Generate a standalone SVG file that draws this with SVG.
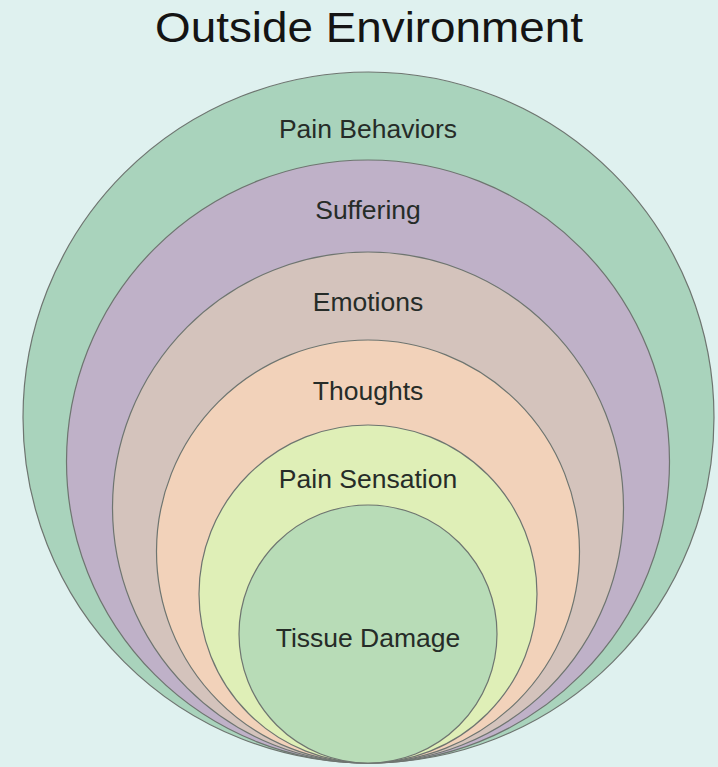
<svg xmlns="http://www.w3.org/2000/svg" width="718" height="767" viewBox="0 0 718 767">
<style>
.ring{stroke:#6e7570;stroke-width:1.2}
.lbl{font-family:"Liberation Sans",Arial,sans-serif;font-size:26.5px;fill:#262c28;text-anchor:middle}
.title{font-family:"Liberation Sans",Arial,sans-serif;font-size:42px;fill:#141414;text-anchor:middle}
</style>
<rect width="718" height="767" fill="#dff1ef"/>
<text class="title" x="369" y="42" textLength="428" lengthAdjust="spacingAndGlyphs">Outside Environment</text>
<g id="pain-behaviors"><circle class="ring" cx="368.5" cy="417.5" r="345.5" fill="#a9d3bc"/><text class="lbl" x="368" y="138">Pain Behaviors</text></g>
<g id="suffering"><circle class="ring" cx="368" cy="461.5" r="301.5" fill="#bfb1c8"/><text class="lbl" x="368" y="219">Suffering</text></g>
<g id="emotions"><circle class="ring" cx="368" cy="507.5" r="255.5" fill="#d4c3bc"/><text class="lbl" x="368" y="311">Emotions</text></g>
<g id="thoughts"><circle class="ring" cx="368" cy="551.5" r="211.5" fill="#f2d2ba"/><text class="lbl" x="368" y="400">Thoughts</text></g>
<g id="pain-sensation"><circle class="ring" cx="368" cy="594" r="169" fill="#dfefb7"/><text class="lbl" x="368" y="488">Pain Sensation</text></g>
<g id="tissue-damage"><circle class="ring" cx="368" cy="634" r="129" fill="#b8dcb7"/><text class="lbl" x="368" y="647">Tissue Damage</text></g>
<g id="connectors"/>
</svg>
